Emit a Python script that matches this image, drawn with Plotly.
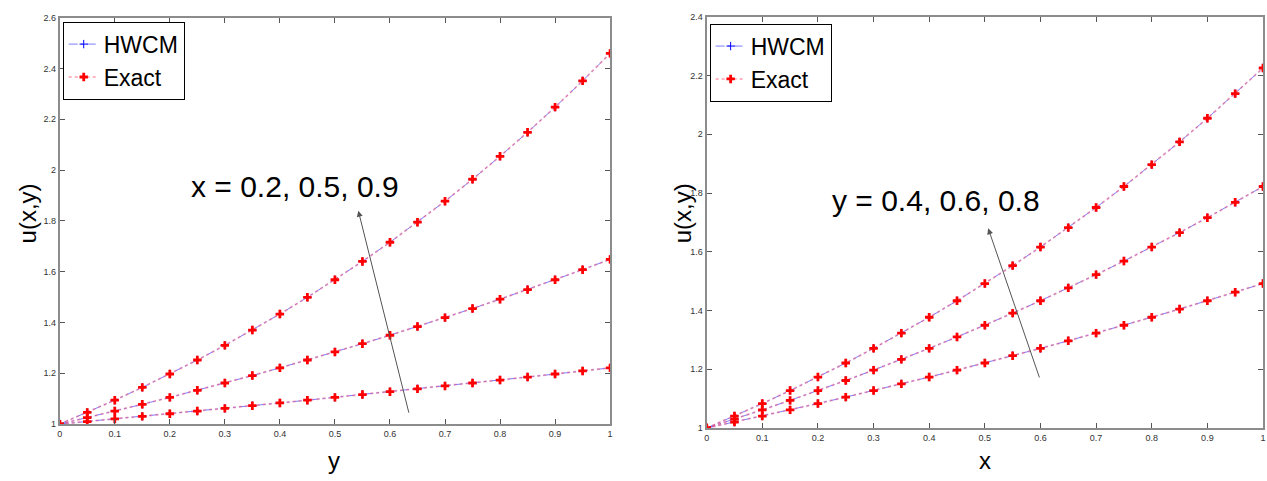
import plotly.graph_objects as go

# ---------------- data ----------------
grid = [0, 0.05, 0.1, 0.15, 0.2, 0.25, 0.3, 0.35, 0.4, 0.45, 0.5,
        0.55, 0.6, 0.65, 0.7, 0.75, 0.8, 0.85, 0.9, 0.95, 1.0]

# Left panel: u(x,y) versus y for x = 0.2, 0.5, 0.9
left_x02 = [1.0, 1.0101, 1.0202, 1.0305, 1.0408, 1.0513, 1.0618, 1.0725, 1.0833, 1.0942, 1.1052,
            1.1163, 1.1275, 1.1388, 1.1503, 1.1618, 1.1735, 1.1853, 1.1972, 1.2093, 1.2214]
left_x05 = [1.0, 1.0253, 1.0513, 1.0779, 1.1052, 1.1331, 1.1618, 1.1912, 1.2214, 1.2523, 1.2840,
            1.3165, 1.3499, 1.3840, 1.4191, 1.4550, 1.4918, 1.5296, 1.5683, 1.6080, 1.6487]
left_x09 = [1.0, 1.0460, 1.0942, 1.1445, 1.1972, 1.2523, 1.3100, 1.3703, 1.4333, 1.4993, 1.5683,
            1.6405, 1.7160, 1.7950, 1.8776, 1.9640, 2.0544, 2.1490, 2.2479, 2.3514, 2.4596]

# Right panel: u(x,y) versus x for y = 0.4, 0.6, 0.8
right_y04 = [1.0, 1.0202, 1.0408, 1.0618, 1.0833, 1.1052, 1.1275, 1.1503, 1.1735, 1.1972, 1.2214,
             1.2461, 1.2712, 1.2969, 1.3231, 1.3499, 1.3771, 1.4049, 1.4333, 1.4623, 1.4918]
right_y06 = [1.0, 1.0305, 1.0618, 1.0942, 1.1275, 1.1618, 1.1972, 1.2337, 1.2712, 1.3100, 1.3499,
             1.3910, 1.4333, 1.4770, 1.5220, 1.5683, 1.6161, 1.6653, 1.7160, 1.7683, 1.8221]
right_y08 = [1.0, 1.0408, 1.0833, 1.1275, 1.1735, 1.2214, 1.2712, 1.3231, 1.3771, 1.4333, 1.4918,
             1.5527, 1.6161, 1.6820, 1.7507, 1.8221, 1.8965, 1.9739, 2.0544, 2.1383, 2.2255]

x_ticks = [0, 0.1, 0.2, 0.3, 0.4, 0.5, 0.6, 0.7, 0.8, 0.9, 1]
x_tick_text = ["0", "0.1", "0.2", "0.3", "0.4", "0.5", "0.6", "0.7", "0.8", "0.9", "1"]
left_y_ticks = [1, 1.2, 1.4, 1.6, 1.8, 2, 2.2, 2.4, 2.6]
right_y_ticks = [1, 1.2, 1.4, 1.6, 1.8, 2, 2.2, 2.4]

FONT = "Liberation Sans, Arial, sans-serif"

fig = go.Figure()

def add_panel(curves, xa, ya, legend):
    for i, ys in enumerate(curves):
        fig.add_trace(go.Scatter(
            x=grid, y=ys, xaxis=xa, yaxis=ya, mode="lines+markers", name="HWCM",
            line=dict(color="rgba(80,80,255,0.75)", dash="dashdot", width=1),
            marker=dict(symbol="cross-thin", size=6, line=dict(color="blue", width=1)),
            showlegend=(i == 0), legend=legend))
    for i, ys in enumerate(curves):
        fig.add_trace(go.Scatter(
            x=grid, y=ys, xaxis=xa, yaxis=ya, mode="lines+markers", name="Exact",
            line=dict(color="rgba(255,90,120,0.45)", dash="dot", width=2),
            marker=dict(symbol="cross", size=7, color="red", line=dict(width=0)),
            showlegend=(i == 0), legend=legend))

add_panel([left_x02, left_x05, left_x09], "x", "y", "legend")
add_panel([right_y04, right_y06, right_y08], "x2", "y2", "legend2")

axis_common = dict(showline=True, linecolor="#8c8c8c", linewidth=2, mirror="ticks",
                   ticks="inside", ticklen=5, tickcolor="#555", showgrid=False, zeroline=False,
                   tickfont=dict(family=FONT, size=9, color="#333"))

legend_common = dict(xanchor="left", yanchor="top", bgcolor="white", bordercolor="black",
                     borderwidth=1, font=dict(family=FONT, size=23, color="black"),
                     itemwidth=30, tracegroupgap=0)

fig.update_layout(
    width=1267, height=481, margin=dict(l=0, r=0, t=0, b=0),
    plot_bgcolor="white", paper_bgcolor="white",
    xaxis=dict(domain=[57/1267, 610/1267], range=[0, 1], tickvals=x_ticks, ticktext=x_tick_text,
               anchor="y", **axis_common),
    yaxis=dict(domain=[1-428/481, 1-13/481], range=[1, 2.6], tickvals=left_y_ticks,
               anchor="x", **axis_common),
    xaxis2=dict(domain=[707/1267, 1266/1267], range=[0, 1], tickvals=x_ticks, ticktext=x_tick_text,
                anchor="y2", **axis_common),
    yaxis2=dict(domain=[1-432/481, 1-12/481], range=[1, 2.4], tickvals=right_y_ticks,
                anchor="x2", **axis_common),
    legend=dict(x=60/1267, y=1-17/481, **legend_common),
    legend2=dict(x=710/1267, y=1-19/481, **legend_common),
    showlegend=True,
)

ann_font = dict(family=FONT, size=30, color="black")
fig.add_annotation(x=0.427, y=1.937, xref="x", yref="y", text="x = 0.2, 0.5, 0.9",
                   xanchor="center", yanchor="middle", showarrow=False, font=ann_font)
fig.add_annotation(x=0.5425, y=1.84, ax=0.635, ay=1.039, xref="x", yref="y", axref="x", ayref="y",
                   showarrow=True, arrowhead=2, arrowsize=1.2, arrowwidth=1, arrowcolor="#555", text="")
fig.add_annotation(x=0.413, y=1.773, xref="x2", yref="y2", text="y = 0.4, 0.6, 0.8",
                   xanchor="center", yanchor="middle", showarrow=False, font=ann_font)
fig.add_annotation(x=0.506, y=1.68, ax=0.599, ay=1.167, xref="x2", yref="y2", axref="x2", ayref="y2",
                   showarrow=True, arrowhead=2, arrowsize=1.2, arrowwidth=1, arrowcolor="#555", text="")

title_font = dict(family=FONT, size=24, color="black")
for tx, ty, txt, ang in [(25, 213, "u(x,y)", -90), (683, 213, "u(x,y)", -90),
                         (333, 465, "y", 0), (987, 465, "x", 0)]:
    fig.add_annotation(x=tx/1267, y=1-ty/481, xref="paper", yref="paper", text=txt,
                       textangle=ang, xanchor="center", yanchor="middle",
                       showarrow=False, font=title_font)

fig.write_html("out.html")
